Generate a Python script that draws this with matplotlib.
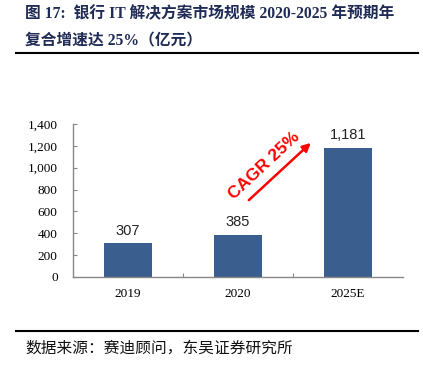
import matplotlib.pyplot as plt
from matplotlib.lines import Line2D

# data
years = ["2019", "2020", "2025E"]
market_size = [307, 385, 1181]
y_ticks = [0, 200, 400, 600, 800, 1000, 1200, 1400]

title_lines = ["图 17:  银行 IT 解决方案市场规模 2020-2025 年预期年",
               "复合增速达 25%（亿元）"]
source_text = "数据来源：赛迪顾问，东吴证券研究所"

bar_color = "#3A5F8F"
title_color = "#1F2B55"
serif = ["Liberation Serif", "Noto Sans CJK SC"]
cjk = ["Noto Sans CJK SC", "DejaVu Sans"]

fig = plt.figure(figsize=(4.23, 3.65), dpi=100)
ax = fig.add_axes([0.1726, 0.2411, 0.7801, 0.4192])

x = range(len(years))
bars = ax.bar(x, market_size, width=0.44, color=bar_color, zorder=2)

# value labels above the bars
for xi, v in zip(x, market_size):
    ax.text(xi, v + 50, f"{v:,}", ha="center", va="bottom",
            fontsize=10.5, family="Liberation Sans", color="#222222")

ax.set_xlim(-0.5, 2.5)
ax.set_ylim(0, 1400)
ax.set_yticks(y_ticks)
ax.set_yticklabels([f"{t:,}" for t in y_ticks], family="Liberation Serif",
                   fontsize=9.5)

# category separators as ticks
ax.set_xticks([0.5, 1.5], minor=False)
ax.set_xticklabels([])
ax.set_xticks(list(x), minor=True)
ax.set_xticklabels(years, minor=True, family="Liberation Serif", fontsize=9.5)
ax.tick_params(axis="x", which="minor", length=0, pad=8)
ax.tick_params(axis="x", which="major", direction="in", length=3,
               color="#888888")
ax.tick_params(axis="y", direction="in", length=3, color="#888888", pad=11)

for s in ["top", "right"]:
    ax.spines[s].set_visible(False)
for s in ["left", "bottom"]:
    ax.spines[s].set_color("#888888")
    ax.spines[s].set_linewidth(1.0)

# CAGR arrow
ax.annotate("", xy=(1.68, 1244), xytext=(1.08, 686),
            arrowprops=dict(arrowstyle="-|>", color="#FF0000", lw=1.8,
                            mutation_scale=12))
ax.text(1.24, 1020, "CAGR 25%", rotation=43, color="#FF0000",
        fontsize=12.5, fontweight="bold", family="Liberation Sans",
        ha="center", va="center", rotation_mode="anchor")

# title
fig.text(25 / 423, 1 - 14 / 365, title_lines[0], family=serif,
         fontweight="bold", fontsize=11.3, color=title_color, va="center")
fig.text(25 / 423, 1 - 41 / 365, title_lines[1], family=serif,
         fontweight="bold", fontsize=11.3, color=title_color, va="center")

# rules
fig.add_artist(Line2D([16 / 423, 418 / 423], [1 - 53 / 365, 1 - 53 / 365],
                      color="black", lw=1.5))
fig.add_artist(Line2D([16 / 423, 418 / 423], [1 - 331 / 365, 1 - 331 / 365],
                      color="black", lw=1.5))

# source
fig.text(25 / 423, 1 - 348 / 365, source_text, family=cjk,
         fontsize=11.3, fontweight="light", color="#111111", va="center")

plt.savefig("out.png", dpi=100)
